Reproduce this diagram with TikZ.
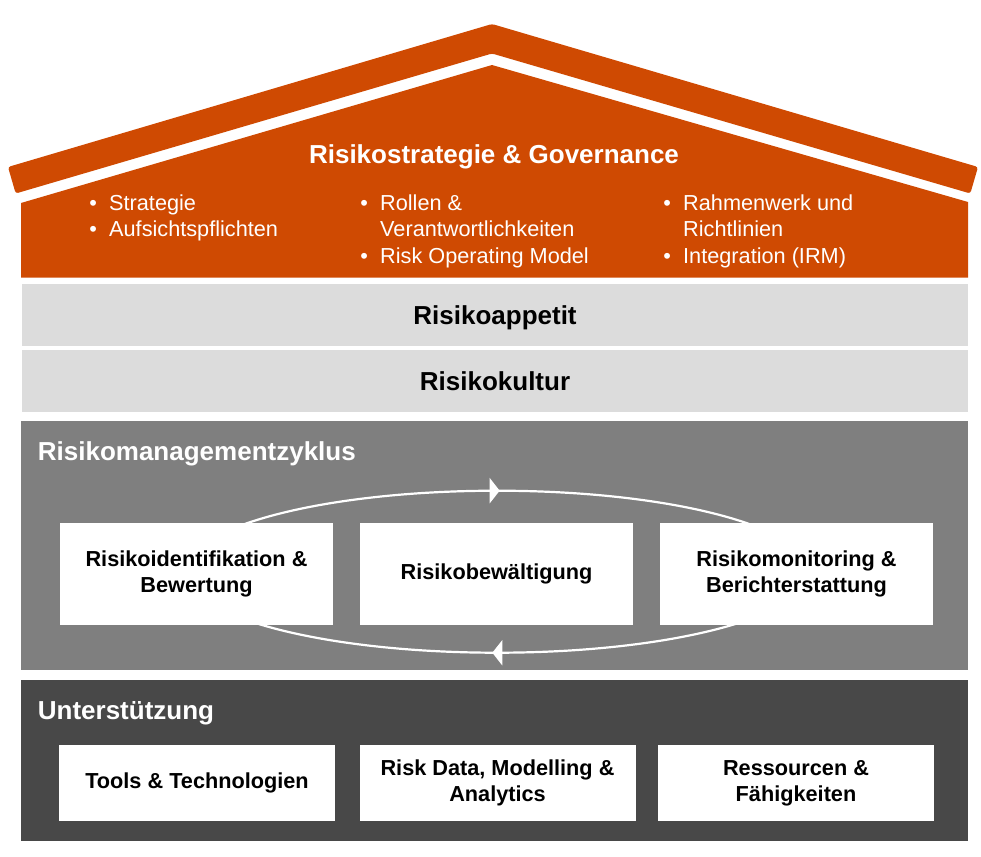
\documentclass[tikz,border=0pt]{standalone}
\usepackage{fontspec}
\setmainfont{Liberation Sans}
\usetikzlibrary{arrows.meta,decorations.markings}
\definecolor{roof}{RGB}{207,74,2}
\definecolor{band}{RGB}{220,220,220}
\definecolor{cyclegray}{RGB}{127,127,127}
\definecolor{supportgray}{RGB}{72,72,72}

\begin{document}
\begin{tikzpicture}[x=1pt,y=-1pt,
  heading/.style={font=\fontsize{26}{31}\selectfont\bfseries, inner sep=0pt},
  bullets/.style={font=\fontsize{21.7}{26.6}\selectfont, text=white, inner sep=0pt, anchor=base west},
  card/.style={fill=white, minimum width=273pt, minimum height=102pt, align=center,
    font=\fontsize{21.7}{26.2}\selectfont\bfseries, inner sep=0pt},
  supportcard/.style={card, minimum width=276pt, minimum height=76pt},
  cyclearrow/.style={draw=white, line width=2.2pt,
    postaction={decorate, decoration={markings,
      mark=at position 0.248 with {\arrowreversed[white]{Triangle[length=10pt,width=25pt]}},
      mark=at position 0.7465 with {\arrowreversed[white]{Triangle[length=10pt,width=25pt]}}}}}
]
\useasboundingbox (0,0) rectangle (981,856);

% roof band and house front
\fill[roof, rounded corners=2.5pt] (8,167) -- (492,24) -- (978,167) -- (970.3,193.5) -- (492,53.5) -- (15.7,193.5) -- cycle;
\fill[roof] (21,203) -- (492,65) -- (968,202) -- (968,277.5) -- (21,277.5) -- cycle;

\node[heading, text=white, anchor=base] (gov) at (494,163.3) {Risikostrategie \& Governance};
\node[bullets] (gov1) at (89.2,210) {\begin{tabular}[t]{@{}l@{\hspace{12.2pt}}l@{}}
  • & Strategie\\
  • & Aufsichtspflichten
\end{tabular}};
\node[bullets] (gov2) at (360.2,210) {\begin{tabular}[t]{@{}l@{\hspace{12.2pt}}l@{}}
  • & Rollen \&\\
    & Verantwortlichkeiten\\
  • & Risk Operating Model
\end{tabular}};
\node[bullets] (gov3) at (663.2,210) {\begin{tabular}[t]{@{}l@{\hspace{12.2pt}}l@{}}
  • & Rahmenwerk und\\
    & Richtlinien\\
  • & Integration (IRM)
\end{tabular}};

% appetite and culture layers
\fill[band] (22,284) rectangle (968,346);
\fill[band] (22,350) rectangle (968,412);
\node[heading, anchor=base] (appetit) at (495,324.3) {Risikoappetit};
\node[heading, anchor=base] (kultur) at (495,390.3) {Risikokultur};

% risk management cycle
\fill[cyclegray] (21,421) rectangle (968,670);
\node[heading, text=white, anchor=base west] (zyklus) at (37.7,460.7) {Risikomanagementzyklus};
\path[cyclearrow] (497,571.7) ellipse [x radius=312pt, y radius=81pt];
\node[card] (ident) at (196.5,574) {Risikoidentifikation \&\\Bewertung};
\node[card] (bew) at (496.5,574) {Risikobewältigung};
\node[card] (mon) at (796.5,574) {Risikomonitoring \&\\Berichterstattung};

% support layer
\fill[supportgray] (21,680) rectangle (968,841);
\node[heading, text=white, anchor=base west] (unter) at (37.7,719) {Unterstützung};
\node[supportcard] (tools) at (197,783) {Tools \& Technologien};
\node[supportcard] (data) at (497.5,783) {Risk Data, Modelling \&\\Analytics};
\node[supportcard] (res) at (796,783) {Ressourcen \&\\Fähigkeiten};
\end{tikzpicture}
\end{document}
